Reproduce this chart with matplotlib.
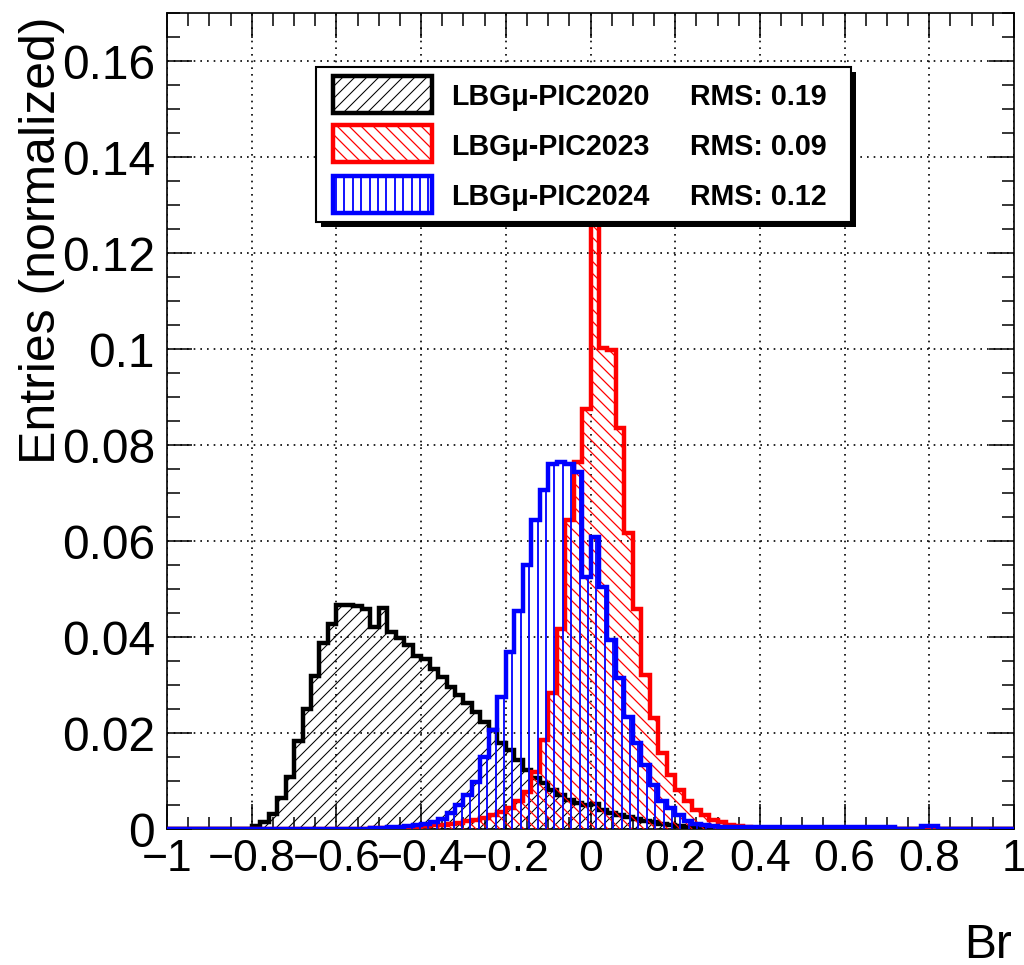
import numpy as np
import matplotlib
matplotlib.use("Agg")
import matplotlib.pyplot as plt
from matplotlib.collections import LineCollection
from matplotlib.patches import Rectangle
from matplotlib.transforms import IdentityTransform
from matplotlib.ticker import MultipleLocator, FuncFormatter

plt.rcParams['font.family'] = ['Liberation Sans', 'DejaVu Sans']

# 100 bins of width 0.02 between -1 and 1, normalized entries
bin_edges = np.linspace(-1, 1, 101)

pic2020 = [0, 0, 0, 0, 0, 0, 0, 0, 0, 0,
           0.0006, 0.0015, 0.0032, 0.0065, 0.011, 0.0185, 0.025, 0.032, 0.0388, 0.0427,
           0.0467, 0.0467, 0.0465, 0.046, 0.0422, 0.0462, 0.0412, 0.0398, 0.0384, 0.0362,
           0.0354, 0.0335, 0.0318, 0.0297, 0.028, 0.0263, 0.0245, 0.0224, 0.0207, 0.0179,
           0.0165, 0.0144, 0.0124, 0.0106, 0.0096, 0.0082, 0.0071, 0.0061, 0.0054, 0.005,
           0.0052, 0.004, 0.0035, 0.003, 0.0026, 0.0022, 0.0018, 0.0015, 0.0012, 0.0009,
           0.0007, 0.0005, 0.0003, 0.0002, 0.0001, 0, 0, 0, 0, 0,
           0, 0.0001, 0.0001, 0, 0, 0, 0, 0, 0, 0,
           0, 0, 0, 0, 0, 0, 0, 0, 0, 0,
           0, 0, 0, 0, 0, 0, 0, 0, 0, 0]

pic2023 = [0, 0, 0, 0, 0, 0, 0, 0, 0, 0,
           0, 0, 0, 0, 0, 0, 0, 0, 0, 0,
           0, 0, 0, 0.0001, 0.0002, 0.0002, 0.0003, 0.0003, 0.0004, 0.0005,
           0.0006, 0.0008, 0.001, 0.0012, 0.0014, 0.0017, 0.002, 0.0024, 0.003, 0.0036,
           0.0045, 0.006, 0.0078, 0.012, 0.0186, 0.0283, 0.0417, 0.0644, 0.0766, 0.0875,
           0.1306, 0.1002, 0.0998, 0.0835, 0.0617, 0.046, 0.0321, 0.0231, 0.0158, 0.0113,
           0.0082, 0.0058, 0.004, 0.003, 0.0019, 0.0015, 0.001, 0.0007, 0.0005, 0.0003,
           0.0002, 0, 0, 0, 0, 0, 0, 0, 0, 0,
           0, 0, 0, 0, 0, 0, 0, 0, 0, 0.0001,
           0, 0, 0, 0, 0, 0, 0, 0, 0, 0]

pic2024 = [0, 0, 0, 0, 0, 0, 0, 0, 0, 0,
           0, 0, 0, 0, 0, 0, 0, 0, 0, 0,
           0, 0, 0, 0, 0.0002, 0.0003, 0.0004, 0.0005, 0.0007, 0.0009,
           0.0011, 0.0015, 0.0021, 0.0034, 0.005, 0.0072, 0.0098, 0.0151, 0.0207, 0.0276,
           0.037, 0.0455, 0.0551, 0.0644, 0.0707, 0.0762, 0.0766, 0.0762, 0.0745, 0.0526,
           0.061, 0.0505, 0.0394, 0.0315, 0.0235, 0.0179, 0.0134, 0.0092, 0.0058, 0.0044,
           0.003, 0.0018, 0.0012, 0.0009, 0.0007, 0.0005, 0.0004, 0.0004, 0.0005, 0.0005,
           0.0005, 0.0005, 0.0005, 0.0004, 0.0004, 0.0004, 0.0004, 0.0004, 0.0004, 0.0004,
           0.0004, 0.0004, 0.0004, 0.0004, 0.0004, 0.0004, 0.0001, 0.0001, 0.0001, 0.0006,
           0.0006, 0.0001, 0.0001, 0.0001, 0.0001, 0.0001, 0.0001, 0.0001, 0.0001, 0.0001]

labels = ["LBG\u03bc-PIC2020", "LBG\u03bc-PIC2023", "LBG\u03bc-PIC2024"]
rms_values = ["0.19", "0.09", "0.12"]
colors = ["#000000", "#ff0000", "#0000ff"]
hatch_kinds = ["/", "\\", "|"]
hatch_steps = [12.0, 12.0, 8.4]
hatch_widths = [0.75, 0.9, 1.3]

W, H = 1024, 965


def hatch_segments(kind, step):
    segs = []
    if kind == "|":
        for x in np.arange(0, W, step):
            segs.append([(x, 0), (x, H)])
    elif kind == "/":
        for c in np.arange(-H, W, step):
            segs.append([(c, 0), (c + H, H)])
    else:
        for c in np.arange(0, W + H, step):
            segs.append([(c, 0), (c - H, H)])
    return segs


def add_hatch(container, clip, kind, color, step, lw, z):
    lc = LineCollection(hatch_segments(kind, step), colors=color, linewidths=lw,
                        transform=IdentityTransform(), zorder=z)
    lc.set_clip_path(clip)
    container.add_artist(lc)


fig = plt.figure(figsize=(W / 100, H / 100), dpi=100)
ax = fig.add_axes([167 / W, 1 - 829.3 / H, (1014 - 167) / W, (829.3 - 13.3) / H])

series = [pic2020, pic2023, pic2024]
for k, vals in enumerate(series):
    clip = ax.stairs(vals, bin_edges, baseline=0, fill=True, facecolor="none",
                     edgecolor="none", zorder=1)
    add_hatch(ax, clip, hatch_kinds[k], colors[k], hatch_steps[k], hatch_widths[k], 2 + 2 * k)
    ax.stairs(vals, bin_edges, baseline=0, fill=False, edgecolor=colors[k],
              linewidth=3.2, joinstyle="miter", zorder=3 + 2 * k)

ax.set_xlim(-1, 1)
ax.set_ylim(0, 0.17)
ax.xaxis.set_major_locator(MultipleLocator(0.2))
ax.xaxis.set_minor_locator(MultipleLocator(0.05))
ax.yaxis.set_major_locator(MultipleLocator(0.02))
ax.yaxis.set_minor_locator(MultipleLocator(0.005))


def fmt(v, pos):
    if abs(v) < 1e-9:
        return "0"
    return ("%g" % round(v, 4)).replace("-", "\u2212")


ax.xaxis.set_major_formatter(FuncFormatter(fmt))
ax.yaxis.set_major_formatter(FuncFormatter(fmt))
ax.tick_params(which="both", direction="in", top=True, right=True, width=1.1, color="black")
ax.tick_params(which="major", length=18)
ax.tick_params(which="minor", length=9)
ax.tick_params(axis="y", labelsize=34.5, pad=8.6)
ax.tick_params(axis="x", labelsize=32, pad=7)
ax.grid(True, which="major", color="black", linestyle=(0, (1, 3)), linewidth=1.2)
ax.set_axisbelow(True)
for s in ax.spines.values():
    s.set_linewidth(1.2)

fig.text(42 / W, 1 - 16 / H, "Entries (normalized)", rotation=90, ha="center", va="top",
         fontsize=36)
fig.text(1012 / W, 1 - 958 / H, "Br", ha="right", va="baseline", fontsize=34.5)


# legend box, drawn in pixel positions
def fx(px):
    return px / W


def fy(py):
    return 1 - py / H


fig.add_artist(Rectangle((fx(321), fy(227)), (851 - 316) / W, (222 - 67) / H,
                         transform=fig.transFigure, facecolor="black", edgecolor="none",
                         zorder=20))
fig.add_artist(Rectangle((fx(316), fy(222)), (851 - 316) / W, (222 - 67) / H,
                         transform=fig.transFigure, facecolor="white", edgecolor="black",
                         linewidth=1.5, zorder=21))
row_y = [94, 144, 194]
for k in range(3):
    cy = row_y[k]
    box = Rectangle((fx(333), fy(cy + 18.5)), 99 / W, 37 / H, transform=fig.transFigure,
                    facecolor="none", edgecolor=colors[k], linewidth=3.2,
                    joinstyle="miter", zorder=23)
    fig.add_artist(box)
    add_hatch(fig, box, hatch_kinds[k], colors[k], hatch_steps[k], hatch_widths[k], 22)
    fig.text(fx(451), fy(cy), labels[k], ha="left", va="center_baseline", fontsize=20.6,
             fontweight="bold", zorder=24)
    fig.text(fx(690), fy(cy), "RMS: " + rms_values[k], ha="left", va="center_baseline",
             fontsize=20.6, fontweight="bold", zorder=24)

fig.savefig("out.png", dpi=100)
